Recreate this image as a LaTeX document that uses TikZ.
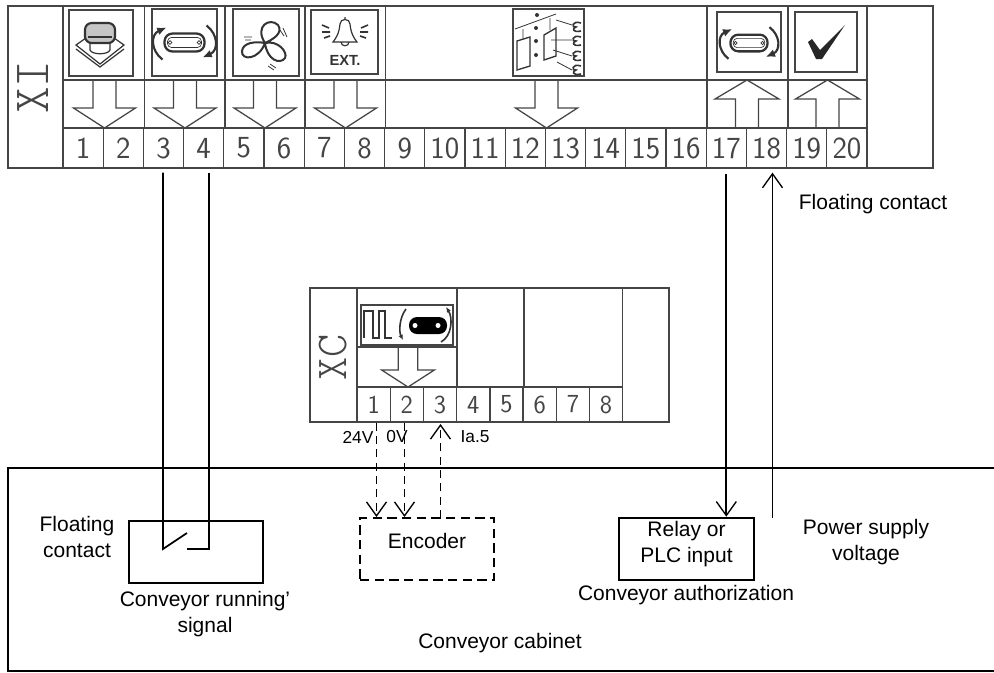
\documentclass[tikz,border=0pt]{standalone}
\usepackage{fontspec}
\setmainfont{Liberation Sans}
\newfontfamily\tagfont{Latin Modern Mono Light}
\usetikzlibrary{arrows.meta}
\definecolor{gridgray}{gray}{0.27}
\definecolor{icongray}{gray}{0.2}
\tikzset{
  % terminal strip
  grid/.style={draw=gridgray, line width=0.95pt},
  termcell/.style={grid, inner sep=0pt, minimum width=30.15pt, minimum height=30pt,
    text=gridgray, font=\sffamily\fontsize{23}{26}\selectfont},
  smallcell/.style={termcell, minimum width=24.94pt, minimum height=26.25pt,
    font=\sffamily\fontsize{19.5}{22}\selectfont},
  iconbox/.style={grid, inner sep=0pt},
  sidetag/.style={text=gridgray, rotate=90, inner sep=0pt},
  % wiring
  wire/.style={line width=1.3pt, draw=black},
  thinwire/.style={line width=1pt, draw=black},
  dashwire/.style={line width=1pt, draw=black, dash pattern=on 6pt off 4pt},
  barb/.style={-{Straight Barb[length=10.5pt, width=15pt, line width=1pt]}},
  unit/.style={draw=black, line width=2pt, inner sep=0pt},
  txt/.style={inner sep=0pt, align=center, font=\fontsize{15.75}{19.5}\selectfont},
  smalltxt/.style={inner sep=0pt, font=\fontsize{13}{15}\selectfont},
  % icons
  icn/.style={draw=icongray, line width=0.9pt},
  downarrow/.pic={
    \draw[grid] (-11.5,-48) -- (-11.5,-20) -- (-31,-20) -- (0,0) -- (31,-20) -- (11.5,-20) -- (11.5,-48);
  },
  uparrow/.pic={
    \draw[grid] (-11.5,48) -- (-11.5,19) -- (-32,19) -- (0,0) -- (32,19) -- (11.5,19) -- (11.5,48);
  },
  beltsign/.pic={
    \draw[icn, line width=1.7pt, rounded corners=6pt] (-20,-9) rectangle (20,9);
    \draw[icn, line width=0.5pt, rounded corners=3pt] (-17,-5) rectangle (17,5);
    \draw[icn, line width=0.5pt] (-14.5,0) circle (1.8) (14.5,0) circle (1.8);
    \draw[icn, line width=1.6pt, -{Latex[length=7pt, width=6pt]}] (-22,17) .. controls (-34,8) and (-34,-8) .. (-18,-15);
    \draw[icn, line width=1.6pt, -{Latex[length=7pt, width=6pt]}] (22,-17) .. controls (34,-8) and (34,8) .. (18,15);
  }
}
\begin{document}
\begin{tikzpicture}[x=0.75pt, y=-0.75pt]
  \useasboundingbox (0,0) rectangle (994,672);

  % --- XI strip ---
  \draw[grid] (8,6) rectangle (933,168);
  \draw[grid] (63,6) -- (63,168) (63,80) -- (867,80) (63,128) -- (867,128);
  \foreach \x in {144.5,225,305,385.5,707,788,867}
    \draw[grid] (\x,6) -- (\x,128);
  \foreach \n in {1,...,20}
    \node[termcell] (t\n) at ({63+(\n-0.5)*40.2},148) {\n};
  \node[sidetag, font=\tagfont\fontsize{38}{38}\selectfont] (xi) at (33,87) {XI};

  \node[iconbox, minimum width=48pt, minimum height=49.5pt] (ipush) at (101,43) {};
  \node[iconbox, minimum width=48.75pt, minimum height=50.25pt] (ibelt) at (184.5,42.5) {};
  \node[iconbox, minimum width=49.5pt, minimum height=50.25pt] (ifan) at (266,42.5) {};
  \node[iconbox, minimum width=50.25pt, minimum height=48pt] (ibell) at (344.5,42) {};
  \node[iconbox, minimum width=53.25pt, minimum height=50.25pt] (icab) at (548.5,42.5) {};
  \node[iconbox, minimum width=48pt, minimum height=45pt] (iauth) at (749,42) {};
  \node[iconbox, minimum width=46.5pt, minimum height=45pt] (iok) at (826,42) {};

  \foreach \x in {104.5,185,265,345.5,546.5}
    \pic at (\x,128) {downarrow};
  \foreach \x in {747,827.5}
    \pic at (\x,80) {uparrow};

  % push button
  \draw[icn] (86,38) -- (76,45) -- (100,64) -- (124,45) -- (114,38);
  \draw[icn] (76,49) -- (100,67) -- (124,49);
  \draw[icn, fill=white] (90,40) -- (90,50) .. controls (92,55) and (108,55) .. (110,50) -- (110,40);
  \draw[icn, line width=1.6pt, fill=gray!45, rounded corners=5pt] (85,23) rectangle (115,43);
  \draw[icn, line width=1.6pt, rounded corners=3pt] (88,37) -- (112,37);

  % belts
  \pic at (184.5,42.5) {beltsign};
  \pic[scale=0.93] at (749,43) {beltsign};

  % fan
  \draw[icn, line width=1.5pt]
    (265,43) .. controls (254,26) and (270,17) .. (278,25) .. controls (284,33) and (272,40) .. (265,43)
    (265,43) .. controls (254,41) and (243,43) .. (242,51) .. controls (241,61) and (259,60) .. (265,43)
    (265,43) .. controls (278,40) and (288,52) .. (285,58) .. controls (280,65) and (267,60) .. (265,43);
  \draw[icn, line width=0.6pt] (283,28) -- (287,37) (280,30) -- (284,36) (244,37) -- (252,37) (245,40) -- (251,40)
    (270,64) -- (276,68) (268,66) -- (274,70);

  % bell
  \draw[icn] (345,17) -- (345,20) (340,24) .. controls (340,18) and (350,18) .. (350,24)
    .. controls (351,34) and (354,38) .. (357,42) -- (333,42) .. controls (336,38) and (339,34) .. (340,24)
    (341,42) .. controls (341,47) and (349,47) .. (349,42);
  \draw[icn, line width=1.2pt] (322,25) -- (329,28) (368,25) -- (361,28) (322,32) -- (330,32) (368,32) -- (360,32)
    (324,38) -- (330,36) (366,38) -- (360,36);
  \node[inner sep=0pt, text=icongray, font=\bfseries\fontsize{11}{11}\selectfont] (ext) at (345,60) {EXT.};

  % cabinet
  \draw[icn, line width=0.6pt] (515,29) -- (556,14) (523,29) -- (523,39) (550,18) -- (550,30)
    (556,20) -- (572,25) (551,40) -- (572,40) (553,50) -- (572,56) (557,62) -- (572,70);
  \draw[icn, line width=1pt] (517,41) -- (530,37) -- (530,66) -- (517,70) -- cycle;
  \draw[icn, line width=1pt] (544,35) -- (556,28) -- (556,56) -- (544,60) -- cycle;
  \fill[icongray] (537,15) circle (2) (536,28) circle (2) (536,41) circle (2) (536,55) circle (2);
  \foreach \y in {27,41,56,70}
    \draw[icn, line width=1.2pt] (581,\y-4) .. controls (572,\y-7) and (571,\y+1) .. (576,\y) .. controls (572,\y+1) and (572,\y+6) .. (581,\y+4);

  % check mark
  \fill[black!85] (808,42) -- (812,39) -- (820,50) -- (845,25) -- (822,59) -- (816,59) -- cycle;

  % --- XC strip ---
  \draw[grid] (310,288) rectangle (669,422);
  \draw[grid] (357,288) -- (357,422) (357,387) -- (622.7,387) (357,347) -- (457,347);
  \foreach \x in {457,524,622.7}
    \draw[grid] (\x,288) -- (\x,387);
  \foreach \n in {1,...,8}
    \node[smallcell] (x\n) at ({357+(\n-0.5)*33.21},404.5) {\n};
  \node[sidetag, font=\tagfont\fontsize{33}{33}\selectfont] (xc) at (333,357) {XC};
  \node[iconbox, minimum width=69pt, minimum height=30pt] (ipulse) at (407,325) {};
  \pic[scale=0.85] at (408,387) {downarrow};

  % pulse and filled belt
  \draw[icn, line width=1.6pt] (364,338) -- (364,311) -- (373,311) -- (373,338) -- (379,338) -- (379,311) -- (385,311) -- (385,338) -- (392,338);
  \fill[black, rounded corners=6pt] (409,317) rectangle (447,334);
  \fill[white] (415,325.5) circle (2.5) (438,325.5) circle (2.5);
  \draw[icn, line width=1.2pt, -{Latex[length=4pt, width=3.5pt]}] (406,309) .. controls (399,318) and (399,332) .. (403,340);
  \draw[icn, line width=1.2pt, -{Latex[length=4pt, width=3.5pt]}] (441,342) .. controls (452,336) and (453,318) .. (446,307);

  % --- Conveyor cabinet ---
  \draw[wire, line width=1.5pt] (994,468) -- (8,468) -- (8,671) -- (994,671);
  \node[unit, minimum width=100.5pt, minimum height=46.5pt] (running) at (196,552) {};
  \node[unit, dash pattern=on 7pt off 4pt, minimum width=100.5pt, minimum height=46.5pt] (encoder) at (427,549) {};
  \node[unit, minimum width=101.25pt, minimum height=46.5pt] (relay) at (686.5,549) {};

  \coordinate (sw1) at (163,549);
  \coordinate (sw2) at (187,549);
  \coordinate (sw3) at (209,549);
  \coordinate (sw4) at (187,533);
  \coordinate (d1) at (376.5,517);
  \coordinate (d2) at (404.5,517);
  \coordinate (d3) at (440.5,518);
  \coordinate (pwr) at (772.5,518);

  % wires
  \draw[wire, shorten <=3pt] (sw1 |- t3.south) -- (sw1) -- (sw4);
  \draw[wire, shorten <=3pt] (sw3 |- t4.south) -- (sw3) -- (sw2);
  \draw[wire, barb, shorten <=4pt] (t17.south) -- (relay.north -| t17.south);
  \draw[thinwire, barb, shorten >=3pt] (pwr) -- (pwr |- t18.south);
  \draw[dashwire, barb] (d1 |- x1.south) -- (d1);
  \draw[dashwire, barb] (d2 |- x2.south) -- (d2);
  \draw[dashwire, barb, shorten >=1pt] (d3) -- (d3 |- x3.south);

  % --- labels ---
  \node[txt] (floatb) at (873,204) {Floating contact};
  \node[txt] (floata) at (77,537) {Floating\\contact};
  \node[txt] (runtxt) at (205,614) {Conveyor running’\\signal};
  \node[txt] (enctxt) at (427,541) {Encoder};
  \node[txt] (relaytxt) at (686.5,544) {Relay or\\PLC input};
  \node[txt] (authtxt) at (686,595) {Conveyor authorization};
  \node[txt] (powertxt) at (866,542) {Power supply\\voltage};
  \node[txt] (cabtxt) at (500,643) {Conveyor cabinet};
  \node[smalltxt] (v24) at (358,437) {24V};
  \node[smalltxt] (v0) at (397,437) {0V};
  \node[smalltxt] (ia5) at (475,437) {Ia.5};
\end{tikzpicture}
\end{document}
